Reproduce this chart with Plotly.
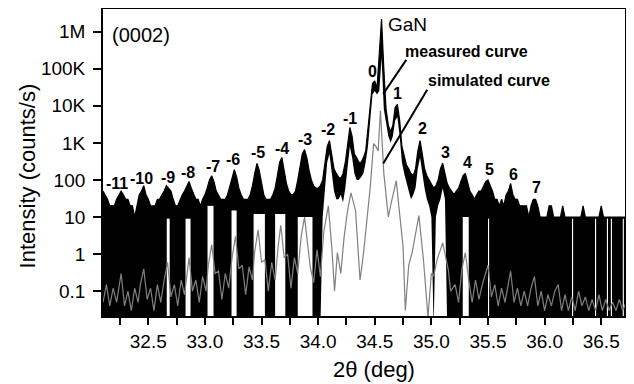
import math
import plotly.graph_objects as go

# ---------------- data ----------------
# measured curve: sampling positions (deg), upper envelope and lower envelope (counts/s)
meas_x = [
    32.10, 32.12, 32.14, 32.16, 32.18, 32.20, 32.22, 32.24, 32.26, 32.28,
    32.30, 32.32, 32.34, 32.36, 32.38, 32.40, 32.42, 32.44, 32.46, 32.48,
    32.50, 32.52, 32.54, 32.56, 32.58, 32.60, 32.62, 32.64, 32.66, 32.68,
    32.70, 32.72, 32.74, 32.76, 32.78, 32.80, 32.82, 32.84, 32.86, 32.88,
    32.90, 32.92, 32.94, 32.96, 32.98, 33.00, 33.02, 33.04, 33.06, 33.08,
    33.10, 33.12, 33.14, 33.16, 33.18, 33.20, 33.22, 33.24, 33.26, 33.28,
    33.30, 33.32, 33.34, 33.36, 33.38, 33.40, 33.42, 33.44, 33.46, 33.48,
    33.50, 33.52, 33.54, 33.56, 33.58, 33.60, 33.62, 33.64, 33.66, 33.68,
    33.70, 33.72, 33.74, 33.76, 33.78, 33.80, 33.82, 33.84, 33.86, 33.88,
    33.90, 33.92, 33.94, 33.96, 33.98, 34.00, 34.02, 34.04, 34.06, 34.08,
    34.10, 34.12, 34.14, 34.16, 34.18, 34.20, 34.22, 34.24, 34.26, 34.28,
    34.30, 34.32, 34.34, 34.36, 34.38, 34.40, 34.42, 34.44, 34.46, 34.48,
    34.50, 34.52, 34.54, 34.56, 34.58, 34.60, 34.62, 34.64, 34.66, 34.68,
    34.70, 34.72, 34.74, 34.76, 34.78, 34.80, 34.82, 34.84, 34.86, 34.88,
    34.90, 34.92, 34.94, 34.96, 34.98, 35.00, 35.02, 35.04, 35.06, 35.08,
    35.10, 35.12, 35.14, 35.16, 35.18, 35.20, 35.22, 35.24, 35.26, 35.28,
    35.30, 35.32, 35.34, 35.36, 35.38, 35.40, 35.42, 35.44, 35.46, 35.48,
    35.50, 35.52, 35.54, 35.56, 35.58, 35.60, 35.62, 35.64, 35.66, 35.68,
    35.70, 35.72, 35.74, 35.76, 35.78, 35.80, 35.82, 35.84, 35.86, 35.88,
    35.90, 35.92, 35.94, 35.96, 35.98, 36.00, 36.02, 36.04, 36.06, 36.08,
    36.10, 36.12, 36.14, 36.16, 36.18, 36.20, 36.22, 36.24, 36.26, 36.28,
    36.30, 36.32, 36.34, 36.36, 36.38, 36.40, 36.42, 36.44, 36.46, 36.48,
    36.50, 36.52, 36.54, 36.56, 36.58, 36.60, 36.62, 36.64, 36.66, 36.68,
    36.70, 36.72,
]
meas_hi = [
    50, 40, 30, 20, 20, 20, 30, 40, 50, 40,
    30, 30, 20, 20, 10, 20, 40, 50, 70, 40,
    30, 20, 20, 20, 30, 30, 40, 50, 70, 60,
    50, 30, 20, 20, 30, 40, 50, 70, 90, 60,
    40, 30, 30, 20, 30, 40, 60, 100, 130, 90,
    50, 40, 30, 30, 30, 40, 70, 120, 190, 120,
    60, 40, 30, 30, 30, 40, 70, 150, 280, 180,
    80, 40, 30, 30, 30, 40, 60, 130, 300, 400,
    180, 80, 50, 40, 40, 50, 100, 250, 500, 660,
    400, 180, 100, 70, 60, 60, 70, 100, 300, 800,
    1150, 500, 200, 150, 120, 110, 150, 300, 1000, 2600,
    1500, 500, 400, 300, 300, 400, 600, 2000, 10000, 40000,
    47000, 30000, 200000, 2200000, 100000, 8000, 3000, 2000, 3000, 9000,
    11000, 4000, 800, 400, 250, 200, 150, 130, 200, 600,
    1150, 500, 200, 130, 100, 80, 60, 70, 100, 200,
    280, 150, 80, 60, 50, 40, 50, 60, 90, 130,
    150, 90, 50, 40, 30, 40, 50, 50, 70, 90,
    100, 70, 50, 30, 30, 20, 30, 20, 40, 50,
    80, 40, 30, 30, 20, 20, 20, 20, 10, 20,
    30, 30, 20, 10, 10, 10, 10, 20, 20, 10,
    10, 10, 10, 20, 10, 10, 10, 10, 10, 10,
    10, 10, 20, 10, 10, 10, 10, 10, 10, 10,
    20, 10, 10, 10, 10, 10, 10, 10, 10, 10,
    10, 10,
]
F = 0.01  # reading below the axis floor (count of zero)
meas_lo = (
    [F] * 90 +
    [F, F, F, F, F, F, F, 10, 50, 300] +
    [500, 150, 50, 30, 30, 40, 25, 60, 200, 800] +
    [400, 150, 100, 100, 120, 150, 300, 800, 4000, 20000] +
    [25000, 20000, 25000, 200000, 8000, 3000, 1500, 1000, 1500, 4000] +
    [5000, 1500, 300, 150, 80, 50, 30, 40, 60, 200] +
    [400, 150, 60, 30, 20, 10, F, 10, 20, 30] +
    [60, 30, F, F, F, F, F, F, F, F] +
    [F] * 70 +
    [F, F]
)
assert len(meas_x) == len(meas_hi) == len(meas_lo), (len(meas_x), len(meas_hi), len(meas_lo))

# columns where the measured count never fell to zero (white gaps in the black)
gap_start = [32.663, 32.829, 33.023, 33.235, 33.430, 33.620, 33.820, 35.277, 35.500, 36.242, 36.445, 36.550, 36.585, 36.690]
gap_end   = [32.689, 32.873, 33.076, 33.280, 33.530, 33.710, 33.950, 35.330, 35.510, 36.252, 36.455, 36.560, 36.595, 36.700]
gap_top   = [9, 9, 20, 15, 12, 12, 10, 10, 9, 9, 9, 9, 9, 9]

# simulated curve
sim_x = [
    32.10, 32.13, 32.16, 32.19, 32.22, 32.26, 32.29, 32.32, 32.35, 32.38,
    32.41, 32.43, 32.46, 32.49, 32.52, 32.55, 32.58, 32.61, 32.64, 32.67,
    32.70, 32.73, 32.76, 32.79, 32.82, 32.84, 32.86, 32.89, 32.92, 32.95,
    32.98, 33.01, 33.03, 33.06, 33.09, 33.12, 33.15, 33.18, 33.21, 33.24,
    33.27, 33.30, 33.33, 33.36, 33.39, 33.42, 33.44, 33.47, 33.50, 33.53,
    33.56, 33.59, 33.62, 33.65, 33.67, 33.70, 33.73, 33.76, 33.79, 33.82,
    33.85, 33.88, 33.91, 33.93, 33.96, 33.99, 34.02, 34.05, 34.09, 34.12,
    34.145, 34.17, 34.20, 34.23, 34.26, 34.29, 34.33, 34.37, 34.40, 34.42,
    34.46, 34.49, 34.51, 34.53, 34.55, 34.58, 34.60, 34.62, 34.65, 34.69,
    34.72, 34.75, 34.77, 34.80, 34.83, 34.86, 34.89, 34.93, 34.97, 35.00,
    35.02, 35.05, 35.10, 35.15, 35.17, 35.21, 35.24, 35.27, 35.30, 35.33,
    35.36, 35.39, 35.42, 35.45, 35.50, 35.53, 35.56, 35.59, 35.62, 35.65,
    35.70, 35.73, 35.76, 35.79, 35.82, 35.85, 35.88, 35.91, 35.94, 35.97,
    36.00, 36.03, 36.06, 36.09, 36.12, 36.15, 36.18, 36.21, 36.24, 36.27,
    36.30, 36.33, 36.36, 36.39, 36.42, 36.45, 36.48, 36.51, 36.54, 36.57,
    36.60, 36.63, 36.66, 36.69, 36.72,
]
sim_y = [
    0.05, 0.15, 0.04, 0.12, 0.05, 0.3, 0.04, 0.1, 0.03, 0.12,
    0.05, 0.15, 0.4, 0.06, 0.12, 0.03, 0.15, 0.05, 0.2, 0.6,
    0.07, 0.15, 0.04, 0.2, 0.08, 0.3, 0.8, 0.1, 0.2, 0.05,
    0.25, 0.1, 0.5, 1.8, 0.3, 0.35, 0.06, 0.3, 0.12, 0.8,
    3.0, 0.4, 0.5, 0.08, 0.45, 0.2, 1.2, 4.5, 0.6, 0.7,
    0.1, 0.6, 0.2, 2.0, 6.0, 0.8, 1.0, 0.12, 0.8, 0.3,
    3.0, 10, 1.2, 0.45, 0.17, 1.3, 0.25, 4.0, 20, 1.6,
    0.1, 1.1, 0.3, 3.0, 15, 45, 15, 0.2, 1.0, 3.6,
    63, 950, 800, 600, 7400, 150, 30, 10, 28, 95,
    12, 1.6, 0.03, 0.5, 1.1, 4.0, 11, 0.7, 0.02, 0.3,
    0.25, 0.7, 2.0, 0.37, 0.1, 0.15, 0.05, 0.4, 1.1, 0.2,
    0.05, 0.2, 0.06, 0.15, 0.5, 0.07, 0.15, 0.04, 0.12, 0.05,
    0.35, 0.05, 0.12, 0.04, 0.1, 0.04, 0.12, 0.25, 0.04, 0.1,
    0.03, 0.08, 0.04, 0.1, 0.15, 0.03, 0.08, 0.03, 0.07, 0.03,
    0.1, 0.04, 0.07, 0.03, 0.06, 0.03, 0.08, 0.03, 0.06, 0.03,
    0.05, 0.03, 0.06, 0.03, 0.05,
]
assert len(sim_x) == len(sim_y), (len(sim_x), len(sim_y))

# satellite-order labels
sat_text = ["-11", "-10", "-9", "-8", "-7", "-6", "-5", "-4", "-3", "-2", "-1",
            "0", "1", "2", "3", "4", "5", "6", "7"]
sat_x = [32.222, 32.441, 32.670, 32.855, 33.067, 33.252, 33.473, 33.684, 33.887, 34.090, 34.284,
         34.478, 34.698, 34.919, 35.122, 35.316, 35.510, 35.722, 35.925]
sat_y = [80, 110, 117, 158, 231, 356, 550, 703, 1227, 2290, 4500,
         82600, 21100, 2420, 548, 295, 191, 141, 63]

# leader lines for the curve labels
meas_lead_x = [34.778, 34.575]
meas_lead_y = [1.73e5, 2.1e4]
sim_lead_x = [34.963, 34.575]
sim_lead_y = [2.7e4, 278]

xtick_vals = [32.25, 32.5, 32.75, 33.0, 33.25, 33.5, 33.75, 34.0, 34.25, 34.5,
              34.75, 35.0, 35.25, 35.5, 35.75, 36.0, 36.25, 36.5]
xtick_text = ["", "32.5", "", "33.0", "", "33.5", "", "34.0", "", "34.5",
              "", "35.0", "", "35.5", "", "36.0", "", "36.5"]
ytick_vals = [0.1, 1, 10, 100, 1e3, 1e4, 1e5, 1e6]
ytick_text = ["0.1", "1", "10", "100", "1K", "10K", "100K", "1M"]

# ---------------- figure ----------------
FONT = "Liberation Sans, Arial, Helvetica, sans-serif"
fig = go.Figure()

fig.add_trace(go.Scatter(x=meas_x, y=meas_lo, mode="lines",
                         line=dict(width=0, color="black"), hoverinfo="skip"))
fig.add_trace(go.Scatter(x=meas_x, y=meas_hi, mode="lines",
                         line=dict(width=1.2, color="black"),
                         fill="tonexty", fillcolor="black"))

for a, b, t in zip(gap_start, gap_end, gap_top):
    fig.add_trace(go.Scatter(x=[a, a, b, b, a], y=[F, t, t, F, F], mode="lines",
                             fill="toself", fillcolor="white",
                             line=dict(width=0, color="white"), hoverinfo="skip"))

fig.add_trace(go.Scatter(x=sim_x, y=sim_y, mode="lines",
                         line=dict(width=1.2, color="#808080")))

fig.add_trace(go.Scatter(x=meas_lead_x, y=meas_lead_y, mode="lines",
                         line=dict(width=2, color="black")))
fig.add_trace(go.Scatter(x=sim_lead_x, y=sim_lead_y, mode="lines",
                         line=dict(width=2, color="black")))

annotations = []
for t, x, y in zip(sat_text, sat_x, sat_y):
    annotations.append(dict(x=x, y=math.log10(y), xref="x", yref="y", text=f"<b>{t}</b>",
                            showarrow=False, xanchor="center", yanchor="middle",
                            font=dict(family=FONT, size=16, color="black")))
annotations += [
    dict(x=34.602, y=6.18, xref="x", yref="y", text="GaN", showarrow=False,
         xanchor="left", yanchor="middle", font=dict(family=FONT, size=19, color="black")),
    dict(x=34.752, y=5.454, xref="x", yref="y", text="<b>measured curve</b>", showarrow=False,
         xanchor="left", yanchor="middle", font=dict(family=FONT, size=16, color="black")),
    dict(x=34.955, y=4.675, xref="x", yref="y", text="<b>simulated curve</b>", showarrow=False,
         xanchor="left", yanchor="middle", font=dict(family=FONT, size=16, color="black")),
    dict(x=32.159, y=5.91, xref="x", yref="y", text="(0002)", showarrow=False,
         xanchor="left", yanchor="middle", font=dict(family=FONT, size=20, color="black")),
    dict(x=0.519, y=-0.175, xref="paper", yref="paper", text="2θ (deg)", showarrow=False,
         xanchor="center", yanchor="middle", font=dict(family=FONT, size=22, color="black")),
    dict(x=-0.1456, y=0.458, xref="paper", yref="paper", text="Intensity (counts/s)",
         showarrow=False, textangle=-90, xanchor="center", yanchor="middle",
         font=dict(family=FONT, size=22, color="black")),
]

# the page adds an 8 px body margin, so the figure is sized 8 px smaller to fit the window
fig.update_layout(
    width=626, height=376,
    margin=dict(l=95, r=9, t=1, b=68),
    paper_bgcolor="white", plot_bgcolor="white",
    showlegend=False,
    font=dict(family=FONT, color="black"),
    annotations=annotations,
)
fig.update_xaxes(range=[32.10, 36.71], tickmode="array", tickvals=xtick_vals, ticktext=xtick_text,
                 ticks="outside", ticklen=7, tickwidth=1.5, tickcolor="black",
                 showline=True, linecolor="black", linewidth=1.8, mirror=True, automargin=False,
                 showgrid=False, zeroline=False, tickfont=dict(family=FONT, size=19, color="black"))
fig.update_yaxes(type="log", range=[-1.67, 6.61], tickmode="array", tickvals=ytick_vals, ticktext=ytick_text,
                 ticks="outside", ticklen=8, tickwidth=1.5, tickcolor="black", ticklabelstandoff=4,
                 showline=True, linecolor="black", linewidth=1.8, mirror=True, automargin=False,
                 showgrid=False, zeroline=False, tickfont=dict(family=FONT, size=19, color="black"))

fig.write_html("out.html")
